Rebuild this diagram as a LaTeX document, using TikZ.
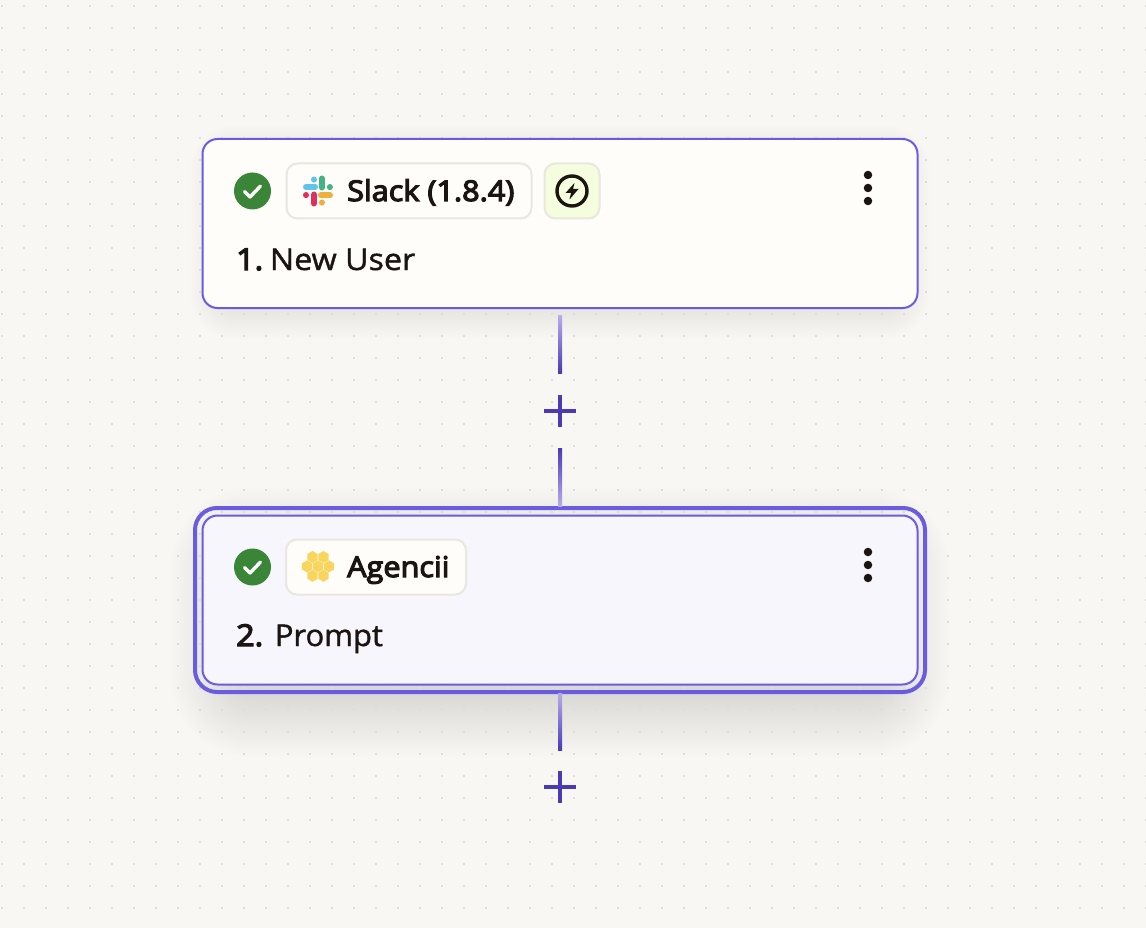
\documentclass[tikz,border=0pt]{standalone}
\usepackage{fontspec}
\setmainfont{Open Sans}[FakeStretch=1.05]
\newfontfamily\semi{Open Sans}[FakeStretch=1.075]
\usetikzlibrary{calc}
\definecolor{bgc}{HTML}{F8F7F3}
\definecolor{dotc}{HTML}{DEDCD6}
\definecolor{ink}{HTML}{1B1512}
\definecolor{accent}{HTML}{6A5CE0}
\definecolor{linkd}{HTML}{4A3BB5}
\definecolor{linkl}{HTML}{B6ADEC}
\definecolor{okc}{HTML}{3A8537}
\definecolor{cream}{HTML}{FFFDF9}
\definecolor{lilac}{HTML}{F6F6FC}
\definecolor{pillb}{HTML}{E9E7DE}
\definecolor{limec}{HTML}{F4FEDF}
\definecolor{sblue}{HTML}{5FC4EC}
\definecolor{sgreen}{HTML}{45B283}
\definecolor{sred}{HTML}{DE3060}
\definecolor{syellow}{HTML}{EBB040}
\definecolor{honey}{HTML}{F8D65E}
\newcommand{\weight}[2]{\special{pdf:code 2 Tr #1 w}#2\special{pdf:code 0 Tr 1 w}}
\tikzset{
  x=1pt,y=-1pt,
  cardbox/.style={draw=accent,line width=2pt,rounded corners=15pt,minimum width=715pt,inner sep=0pt,outer sep=0pt},
  pillbox/.style={draw=pillb,line width=2pt,rounded corners=11pt,minimum height=55pt,inner sep=0pt,outer sep=0pt},
  okdot/.style={circle,fill=okc,minimum size=37pt,inner sep=0pt,outer sep=0pt},
  kebab/.style={circle,fill=ink,minimum size=8.5pt,inner sep=0pt},
  plusmark/.style={minimum size=32pt,inner sep=0pt,outer sep=0pt},
  plusline/.style={linkd,line width=4.6pt},
  conn/.style={linkd,line width=4pt},
  tickmark/.style={white,line width=3.4pt,line cap=round,line join=round},
  labelsemi/.style={anchor=base west,inner sep=0pt,font=\semi\fontsize{28.5}{30}\selectfont,text=ink},
  labeltext/.style={anchor=base west,inner sep=0pt,font=\fontsize{30}{32}\selectfont,text=ink},
}
% #1 cx, #2 cy, #3 half width, #4 half height, #5 layers, #6 step between layers
\newcommand{\softshadow}[6]{%
  \foreach \k in {0,...,#5}{%
    \pgfmathsetmacro{\ext}{(#5-\k)*#6}%
    \fill[black,opacity=0.0045,rounded corners=\fpeval{16+\ext}pt]
      (\fpeval{#1-#3-\ext},\fpeval{#2-#4-\ext}) rectangle (\fpeval{#1+#3+\ext},\fpeval{#2+#4+\ext});
  }%
}
\newcommand{\hexcell}[2]{%
  \fill[honey] (#1,#2)+(90:6) -- +(30:6) -- +(-30:6) -- +(-90:6) -- +(-150:6) -- +(150:6) -- cycle;
}
\begin{document}
\begin{tikzpicture}
\useasboundingbox (0,0) rectangle (1146,928);
\fill[bgc] (0,0) rectangle (1146,928);
% shadows
\softshadow{560}{232}{340}{76}{18}{1.7}
\softshadow{560}{622}{325}{70}{30}{2.17}
\fill[bgc,opacity=.75] (560,787) circle (31);
% dot grid
\foreach \i in {0,...,52}{\foreach \j in {0,...,42}{%
  \fill[dotc] (\fpeval{1.7+22*\i-1},\fpeval{5.7+22*\j-1}) rectangle +(2,2);
}}
% card 1
\node[cardbox,fill=cream,minimum height=169pt] (card1) at (560,223.5) {};
\node[okdot] (ok1) at (252.5,191) {};
\draw[tickmark] (244.5,191.5) -- (250,197) -- (260.5,186);
\node[pillbox,fill=cream,minimum width=245pt] (pill1) at (409,191) {};
\begin{scope}[shift={(318,191)},line cap=round]
  \draw[sblue,line width=6pt] (-12,-4.3) -- (-3,-4.3);
  \draw[sblue,line width=6pt] (-4,-11.5) -- (-4,-11.4);
  \draw[sgreen,line width=6pt] (3.8,-12.5) -- (3.8,-3.5);
  \draw[sgreen,line width=6pt] (11.5,-4) -- (11.5,-3.9);
  \draw[sred,line width=6pt] (-4,3.5) -- (-4,12.5);
  \draw[sred,line width=6pt] (-12,4) -- (-12,4.1);
  \draw[syellow,line width=6pt] (3,4.3) -- (12,4.3);
  \draw[syellow,line width=6pt] (3.8,11.5) -- (3.8,11.6);
\end{scope}
\node[labelsemi] (slack) at (347,201) {\weight{1.2}{Slack (1.8.4)}};
\node[pillbox,fill=limec,minimum width=55pt] (pill2) at (572,191) {};
\node[circle,draw=ink,line width=3.4pt,minimum size=30pt,inner sep=0pt] (bolt) at (572,191) {};
\fill[ink] (574.5,183) -- (565.5,193) -- (571,193) -- (569.5,199.5) -- (578.5,189) -- (573,189) -- cycle;
\node[kebab] (k1) at (868,175) {};
\node[kebab] (k2) at (868,188) {};
\node[kebab] (k3) at (868,201) {};
\node[labeltext] (title1) at (236,270) {\weight{1.3}{\semi 1.}\hspace{-4.5pt} \weight{0.4}{New User}};
% connector 1
\node[plusmark] (plus1) at (560,411) {};
\draw[plusline] (plus1.north) -- (plus1.south);
\draw[plusline] (plus1.west) -- (plus1.east);
% card 2
\node[cardbox,fill=lilac,minimum height=169pt] (card2) at (560,600) {};
\node[draw=accent,line width=4pt,rounded corners=22pt,minimum width=730pt,minimum height=184pt,inner sep=0pt,outer sep=0pt] (ring2) at (560,600) {};
\node[okdot] (ok2) at (252.5,567) {};
\draw[tickmark] (244.5,567.5) -- (250,573) -- (260.5,562);
\node[pillbox,fill=cream,minimum width=180pt] (pill3) at (376,567) {};
\hexcell{312.5}{557}\hexcell{323.5}{557}
\hexcell{307}{566.4}\hexcell{318}{566.4}\hexcell{329}{566.4}
\hexcell{312.5}{575.8}\hexcell{323.5}{575.8}
\node[labelsemi] (agencii) at (347,577) {\weight{1.2}{Agencii}};
\node[kebab] (k4) at (868,552) {};
\node[kebab] (k5) at (868,565) {};
\node[kebab] (k6) at (868,578) {};
\node[labeltext] (title2) at (236,646) {\weight{1.3}{\semi 2.}\hspace{0.5pt} \weight{0.4}{\scalebox{0.96}[1]{Prompt}}};
\node[plusmark] (plus2) at (560,787) {};
\draw[plusline] (plus2.north) -- (plus2.south);
\draw[plusline] (plus2.west) -- (plus2.east);
% connector segments (named ends)
\coordinate (a1) at ($(card1.south)+(0,7.5)$);
\coordinate (a2) at ($(plus1.north)+(0,-22)$);
\coordinate (b1) at ($(plus1.south)+(0,21)$);
\coordinate (b2) at ($(ring2.north)+(0,-2)$);
\coordinate (c1) at ($(ring2.south)+(0,1)$);
\coordinate (c2) at ($(plus2.north)+(0,-21)$);
\draw[conn] (a1) -- (a2);
\draw[conn] (b1) -- (b2);
\draw[conn] (c1) -- (c2);
\shade[top color=linkl,bottom color=linkd] ($(a1)+(-2,0)$) rectangle ($(a2)+(2,0)$);
\shade[top color=linkd,bottom color=linkl] ($(b1)+(-2,0)$) rectangle ($(b2)+(2,0)$);
\shade[top color=linkl,bottom color=linkd] ($(c1)+(-2,0)$) rectangle ($(c2)+(2,0)$);
\end{tikzpicture}
\end{document}
